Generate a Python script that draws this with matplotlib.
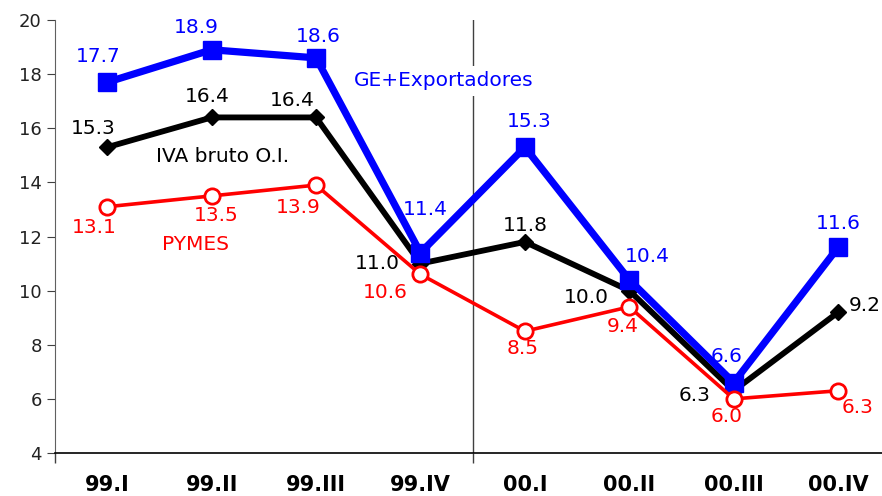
import matplotlib
matplotlib.use('Agg')
import matplotlib.pyplot as plt

quarters = ['99.I', '99.II', '99.III', '99.IV', '00.I', '00.II', '00.III', '00.IV']
ge_export = [17.7, 18.9, 18.6, 11.4, 15.3, 10.4, 6.6, 11.6]
iva_bruto = [15.3, 16.4, 16.4, 11.0, 11.8, 10.0, 6.3, 9.2]
pymes = [13.1, 13.5, 13.9, 10.6, 8.5, 9.4, 6.0, 6.3]

# label offsets in pixels (dx, dy; dy positive = up)
ge_off = [(-9, 26), (-15, 22), (2, 21), (5, 43), (4, 26), (18, 23), (-7, 26), (0, 24)]
iva_off = [(-14, 19), (-4, 21), (-24, 17), (-43, 0), (0, 16), (-43, -7), (-39, -5), (27, 7)]
pymes_off = [(-13, -21), (5, -20), (-18, -22), (-35, -18), (-2, -17), (-7, -20), (-7, -18), (19, -17)]

BLUE = '#0000ff'
RED = '#ff0000'
FS = 14.5

fig = plt.figure(figsize=(8.82, 4.96), dpi=100)
ax = fig.add_axes([55 / 882, 1 - 453 / 496, 1 - 55 / 882, (453 - 20) / 496])
x = list(range(len(quarters)))

ax.axvline(3.5, color='#404040', lw=1, zorder=1)

ax.plot(x, ge_export, color=BLUE, lw=5.2, marker='s', ms=13.5, zorder=4)
ax.plot(x, iva_bruto, color='black', lw=4.2, marker='D', ms=8, zorder=3)
ax.plot(x, pymes, color=RED, lw=2.6, marker='o', ms=11, mfc='white', mec=RED,
        mew=2, zorder=5)

def put_labels(vals, offs, color):
    for i, (v, (dx, dy)) in enumerate(zip(vals, offs)):
        ax.annotate(f'{v:.1f}', (i, v), xytext=(dx * 0.72, dy * 0.72),
                    textcoords='offset points', ha='center', va='center',
                    fontsize=FS, color=color, zorder=6)

put_labels(ge_export, ge_off, BLUE)
put_labels(iva_bruto, iva_off, 'black')
put_labels(pymes, pymes_off, RED)

ax.text(3.226, 17.75, 'GE+Exportadores', color=BLUE, fontsize=FS, ha='center',
        va='center', zorder=7, bbox=dict(facecolor='white', edgecolor='none', pad=4))
ax.text(1.109, 14.94, 'IVA bruto O.I.', color='black', fontsize=FS, ha='center',
        va='center', zorder=7)
ax.text(0.841, 11.69, 'PYMES', color=RED, fontsize=FS, ha='center',
        va='center', zorder=7)

ax.set_xlim(-0.5, 7.42)
ax.set_ylim(4, 20)
ax.set_yticks(range(4, 21, 2))
ax.set_xticks(x)
ax.set_xticklabels(quarters, fontweight='bold', fontsize=15)
ax.tick_params(axis='x', length=0, pad=16)
ax.set_xticks([-0.5, 3.5], minor=True)
ax.tick_params(axis='x', which='minor', length=7, color='#404040', width=1)
ax.tick_params(axis='y', length=6, color='#404040', labelsize=13, labelcolor='#222222')

for s in ['top', 'right']:
    ax.spines[s].set_visible(False)
ax.spines['left'].set_color('#606060')
ax.spines['bottom'].set_color('black')
ax.spines['bottom'].set_linewidth(1.2)

fig.savefig('out.png', dpi=100)
